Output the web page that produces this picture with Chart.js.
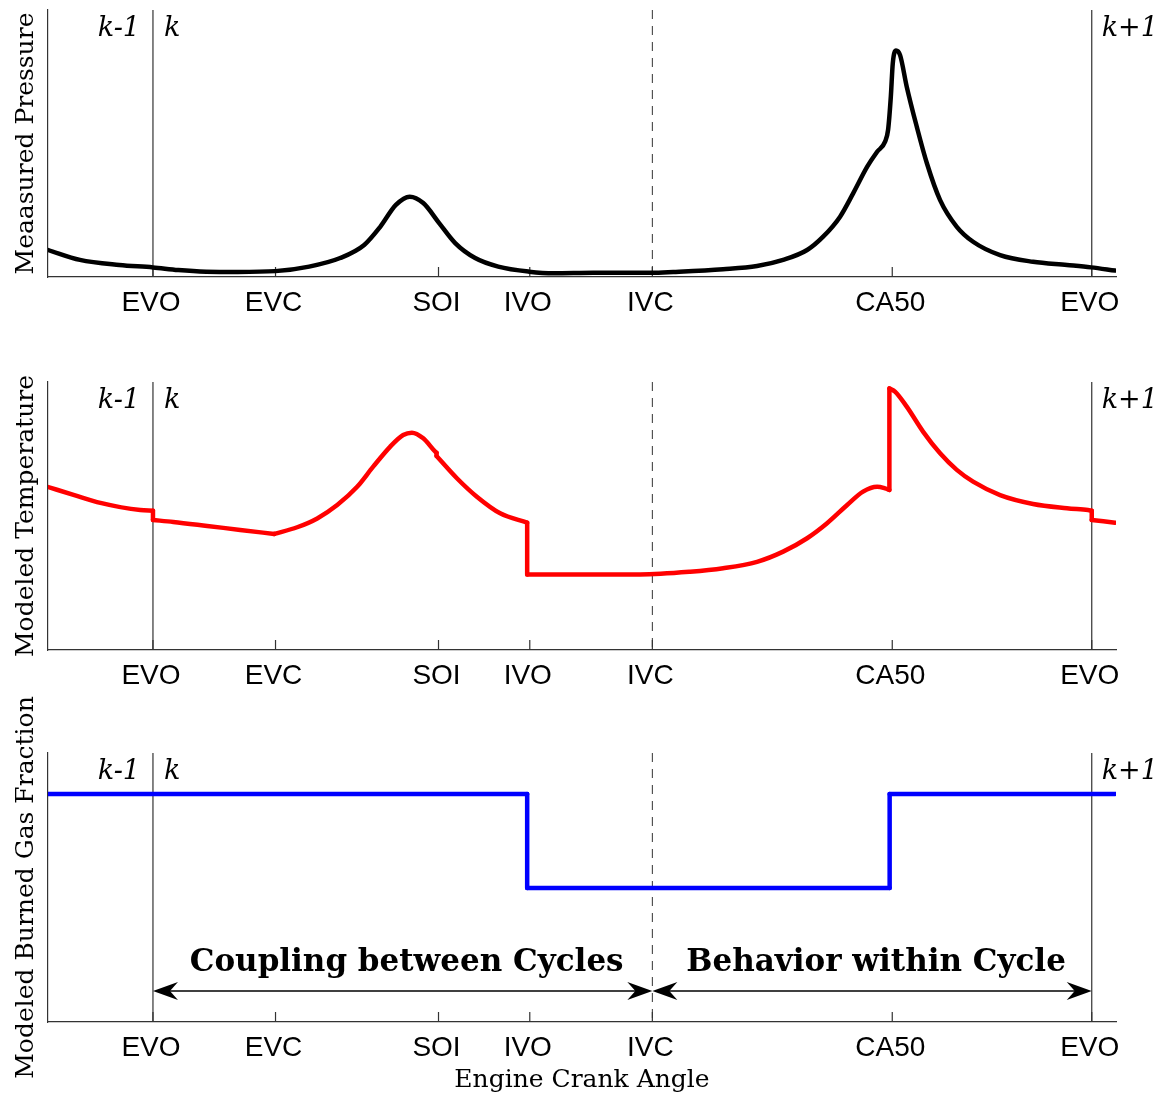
<!DOCTYPE html>
<html>
<head>
<meta charset="utf-8">
<script src="https://cdn.jsdelivr.net/npm/chart.js@4.4.0/dist/chart.umd.min.js"></script>
<style>
  body { margin: 0; background: #fff; }
  #wrap { position: relative; width: 1171px; height: 1097px; }
  canvas { position: absolute; left: 0; }
</style>
</head>
<body>
<div id="wrap">
  <canvas id="c1" width="1171" height="345" style="top:0"></canvas>
  <canvas id="c2" width="1171" height="345" style="top:345px"></canvas>
  <canvas id="c3" width="1171" height="407" style="top:690px"></canvas>
</div>
<script>
// crank angle events (deg after EVO of cycle k)
const eventTicks = [0, 94, 219, 289, 383, 567, 720];
const eventLabels = ['EVO', 'EVC', 'SOI', 'IVO', 'IVC', 'CA50', 'EVO'];
const cycleBounds = [0, 720];
const ivcAngle = 383;

// measured pressure (normalised)
const pressureAngle = [-80.3, -56, -25.8, 0, 19.4, 40.9, 65.1, 93.8, 119.8, 143.6, 162, 174.3, 186.3, 196.9, 207.3, 219.5, 231.8, 247.1, 264.8, 288.5,
  307.5, 337.6, 382.6, 399, 437.3, 463.3, 483.3, 501.7, 514, 527, 537, 547.8, 555.4, 561.5, 563.8, 565.9, 567.4, 569.9, 573, 578.1,
  585.8, 593.5, 603.7, 616.5, 629, 649.7, 675, 701, 719.4, 737.9];
const pressureValue = [0.101, 0.064, 0.045, 0.036, 0.026, 0.020, 0.019, 0.022, 0.039, 0.071, 0.120, 0.188, 0.270, 0.301, 0.277, 0.202, 0.127, 0.071, 0.039, 0.020,
  0.014, 0.016, 0.016, 0.019, 0.029, 0.041, 0.064, 0.101, 0.151, 0.226, 0.313, 0.413, 0.469, 0.507, 0.551, 0.675, 0.800, 0.848, 0.831, 0.713,
  0.563, 0.427, 0.288, 0.188, 0.132, 0.082, 0.057, 0.045, 0.036, 0.024];

// modeled temperature (normalised); a repeated angle marks a step or corner
const tempAngle = [-80.3, -60.3, -40.3, -9.7, 0, 0, 15.6, 41.6, 66.9, 93, 93, 110.6, 126, 141.3, 156.6, 168.9, 182, 191.9, 198.6, 207.3,
  216.5, 217.5, 217.5, 233.1, 248.4, 266.3, 287, 287, 373.6, 412, 437.3, 463.3, 483.3, 501.7, 517, 532.4, 544.6, 555.4, 561.5, 564.8,
  564.8, 569.1, 578.1, 590.6, 603.7, 616.5, 629, 649.7, 675, 701, 717.1, 720, 720, 737.9];
const tempValue = [0.608, 0.578, 0.549, 0.522, 0.520, 0.485, 0.478, 0.463, 0.448, 0.433, 0.433, 0.458, 0.491, 0.541, 0.609, 0.684, 0.759, 0.802, 0.811, 0.790,
  0.740, 0.736, 0.724, 0.641, 0.572, 0.510, 0.475, 0.282, 0.282, 0.292, 0.305, 0.329, 0.367, 0.417, 0.473, 0.541, 0.591, 0.609, 0.603, 0.597,
  0.976, 0.964, 0.908, 0.815, 0.734, 0.672, 0.628, 0.578, 0.545, 0.529, 0.522, 0.520, 0.485, 0.475];

// modeled burned gas fraction (normalised)
const bgfAngle = [-80.3, 287, 287, 565, 565, 737.9];
const bgfValue = [0.848, 0.848, 0.498, 0.498, 0.848, 0.848];

// annotation spans on the bottom panel
const spanStart = [0, 383];
const spanEnd = [383, 720];
const spanLabel = ['Coupling between Cycles', 'Behavior within Cycle'];
const spanArrowY = 0.115;
const spanTextY = 0.218;

const X_MIN = -80.5, X_MAX = 738.6;
const AXIS = '#333';

// split a series at repeated angles: smooth pieces + straight connectors
function buildDatasets(xs, ys, color, curved) {
  const base = {
    borderColor: color, borderWidth: 4.5, pointRadius: 0, fill: false,
    borderCapStyle: 'round', borderJoinStyle: 'round'
  };
  const sets = [];
  let seg = [];
  for (let i = 0; i < xs.length; i++) {
    if (i > 0 && xs[i] === xs[i - 1]) {
      sets.push({ ...base, data: seg, tension: curved ? 0.4 : 0, cubicInterpolationMode: curved ? 'monotone' : 'default' });
      sets.push({ ...base, data: [{ x: xs[i - 1], y: ys[i - 1] }, { x: xs[i], y: ys[i] }], tension: 0 });
      seg = [];
    }
    seg.push({ x: xs[i], y: ys[i] });
  }
  sets.push({ ...base, data: seg, tension: curved ? 0.4 : 0, cubicInterpolationMode: curved ? 'monotone' : 'default' });
  return sets;
}

function arrowHead(ctx, px, py, dir) {
  const L = 25, W = 9, N = 17;
  ctx.beginPath();
  ctx.moveTo(px, py);
  ctx.lineTo(px - dir * L, py - W);
  ctx.lineTo(px - dir * N, py);
  ctx.lineTo(px - dir * L, py + W);
  ctx.closePath();
  ctx.fill();
}

const decoPlugin = {
  id: 'deco',
  beforeDatasetsDraw(chart) {
    const { ctx, chartArea: a, scales: { x } } = chart;
    ctx.save();
    ctx.strokeStyle = AXIS;
    ctx.lineWidth = 1.2;
    // inward tick marks
    eventTicks.forEach(v => {
      const px = x.getPixelForValue(v);
      ctx.beginPath();
      ctx.moveTo(px, a.bottom);
      ctx.lineTo(px, a.bottom - 10);
      ctx.stroke();
    });
    // cycle boundaries
    cycleBounds.forEach(v => {
      const px = x.getPixelForValue(v);
      ctx.beginPath();
      ctx.moveTo(px, a.top);
      ctx.lineTo(px, a.bottom);
      ctx.stroke();
    });
    // IVC dashed
    ctx.setLineDash([9, 7]);
    ctx.lineWidth = 1;
    const ivc = x.getPixelForValue(ivcAngle);
    ctx.beginPath();
    ctx.moveTo(ivc, a.top);
    ctx.lineTo(ivc, a.bottom);
    ctx.stroke();
    ctx.restore();
  },
  afterDatasetsDraw(chart, args, opts) {
    const { ctx, chartArea: a, scales: { x, y } } = chart;
    ctx.save();
    ctx.fillStyle = '#000';
    ctx.font = 'italic 27px "DejaVu Serif"';
    ctx.textBaseline = 'alphabetic';
    const b0 = x.getPixelForValue(cycleBounds[0]);
    const b1 = x.getPixelForValue(cycleBounds[1]);
    ctx.textAlign = 'right';
    ctx.fillText('k-1', b0 - 13, a.top + 26);
    ctx.textAlign = 'left';
    ctx.fillText('k', b0 + 11, a.top + 26);
    ctx.fillText('k+1', b1 + 10, a.top + 26);

    if (opts.arrows) {
      ctx.strokeStyle = '#000';
      ctx.lineWidth = 1.5;
      const ay = y.getPixelForValue(spanArrowY);
      const ty = y.getPixelForValue(spanTextY);
      ctx.font = 'bold 31px "DejaVu Serif"';
      ctx.textAlign = 'center';
      ctx.textBaseline = 'middle';
      spanStart.forEach((s, i) => {
        const p0 = x.getPixelForValue(s);
        const p1 = x.getPixelForValue(spanEnd[i]);
        ctx.beginPath();
        ctx.moveTo(p0 + 10, ay);
        ctx.lineTo(p1 - 10, ay);
        ctx.stroke();
        arrowHead(ctx, p0, ay, -1);
        arrowHead(ctx, p1, ay, 1);
        ctx.fillText(spanLabel[i], (p0 + p1) / 2 + 4, ty);
      });
    }
    ctx.restore();
  }
};

function makePanel(id, xs, ys, color, yTitle, top, bottom, extra) {
  const canvas = document.getElementById(id);
  const H = canvas.height;
  return new Chart(canvas.getContext('2d'), {
    type: 'line',
    data: { datasets: buildDatasets(xs, ys, color, !!extra.curved) },
    options: {
      responsive: false,
      animation: false,
      events: [],
      layout: { padding: { top: top, right: 55, left: 0, bottom: 0 } },
      plugins: {
        legend: { display: false },
        tooltip: { enabled: false },
        deco: { arrows: !!extra.arrows }
      },
      scales: {
        x: {
          type: 'linear',
          min: X_MIN,
          max: X_MAX,
          grid: { display: false },
          border: { display: true, color: AXIS, width: 1.2 },
          afterBuildTicks: s => { s.ticks = eventTicks.map(v => ({ value: v })); },
          afterFit: s => { s.height = H - bottom; },
          ticks: {
            autoSkip: false,
            maxRotation: 0,
            padding: 1,
            labelOffset: -2,
            color: '#000',
            font: { family: 'Liberation Sans', size: 28 },
            callback: (v, i) => eventLabels[i]
          },
          title: {
            display: !!extra.xTitle,
            text: extra.xTitle || '',
            color: '#000',
            font: { family: 'DejaVu Serif', size: 25 },
            padding: { top: 0, bottom: 2 }
          }
        },
        y: {
          min: 0,
          max: 1,
          grid: { display: false },
          border: { display: true, color: AXIS, width: 1.2 },
          ticks: { display: false },
          afterFit: s => { s.width = 48; },
          title: {
            display: true,
            text: yTitle,
            color: '#000',
            font: { family: 'DejaVu Serif', size: 25 },
            padding: { top: 11, bottom: 0 }
          }
        }
      }
    },
    plugins: [decoPlugin]
  });
}

makePanel('c1', pressureAngle, pressureValue, '#000000', 'Meaasured Pressure', 10, 277, { curved: true });
makePanel('c2', tempAngle, tempValue, '#ff0000', 'Modeled Temperature', 37, 305, { curved: true });
makePanel('c3', bgfAngle, bgfValue, '#0000ff', 'Modeled Burned Gas Fraction', 63, 332, { arrows: true, xTitle: 'Engine Crank Angle' });
</script>
</body>
</html>
